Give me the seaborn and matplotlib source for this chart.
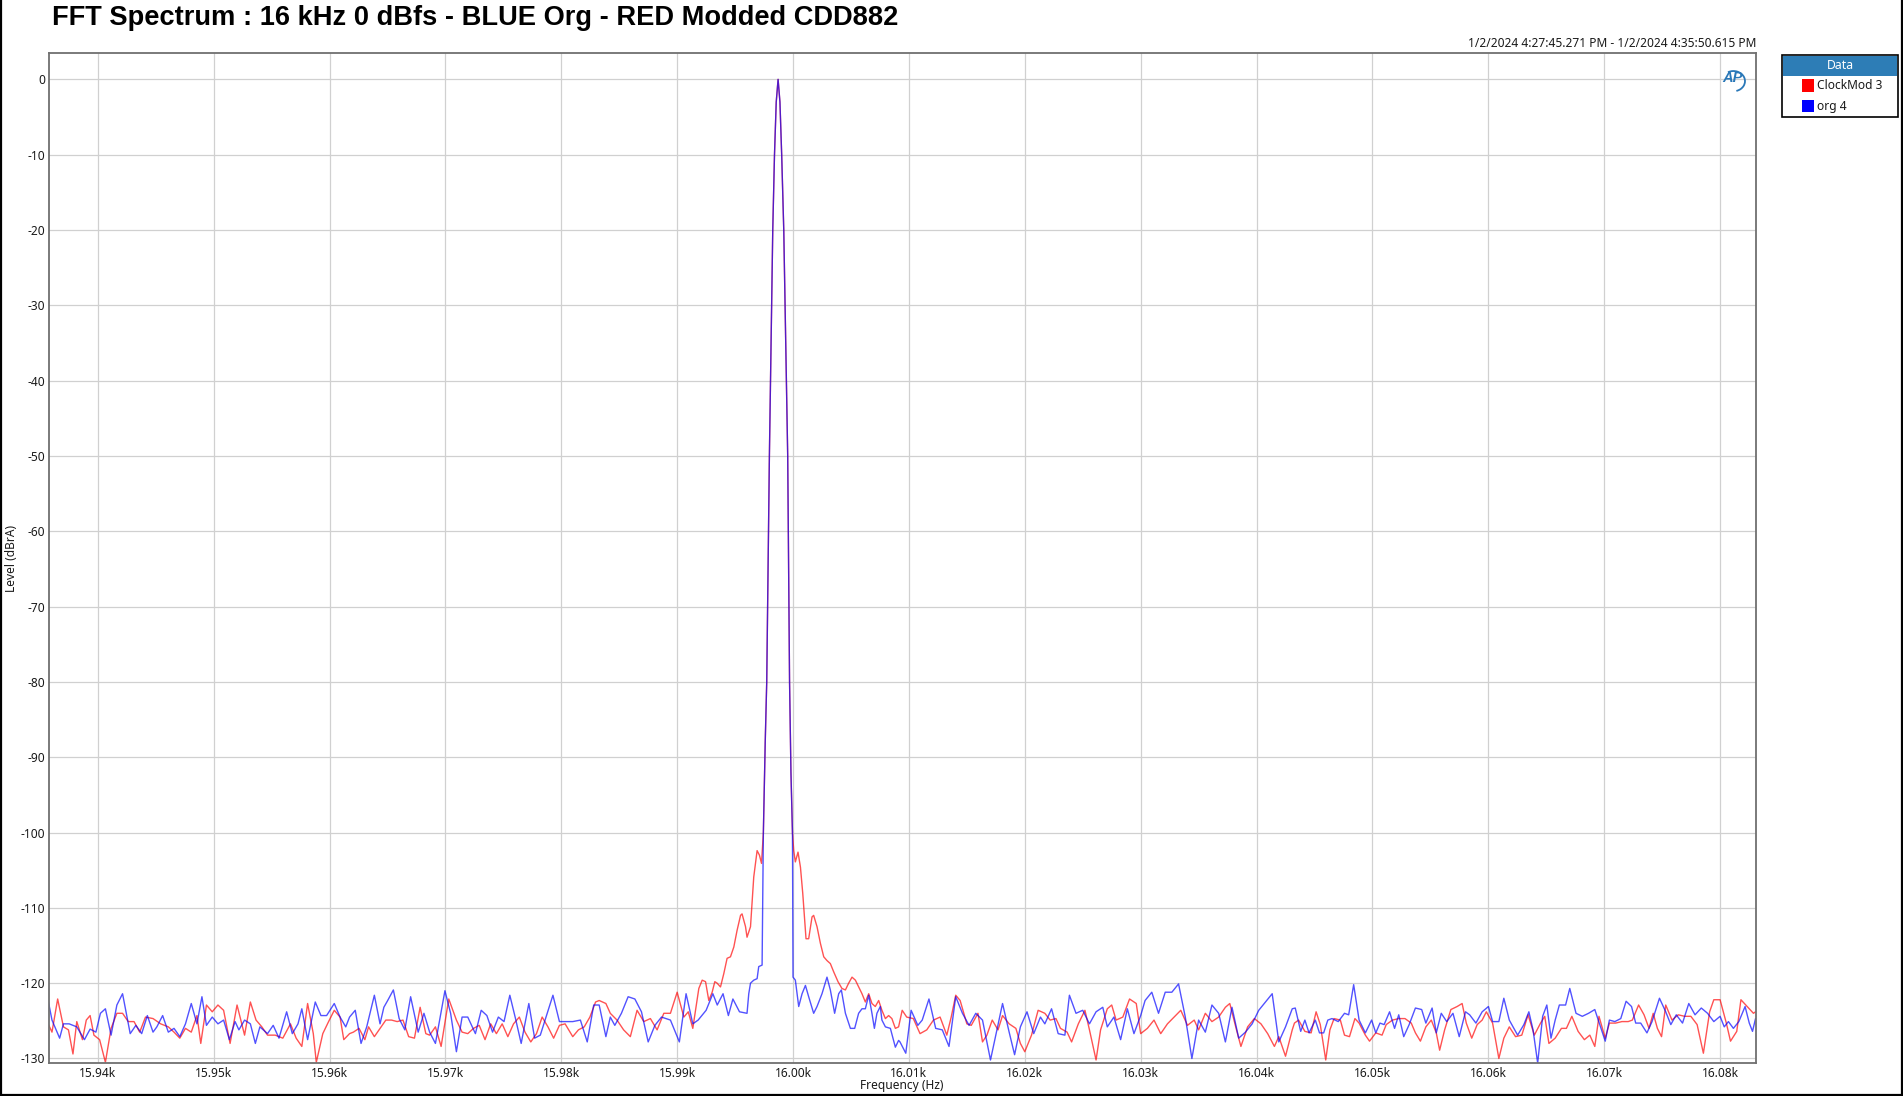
import numpy as np
import pandas as pd
import matplotlib
matplotlib.use('Agg')
import matplotlib.pyplot as plt
from matplotlib.patches import Rectangle, Arc
from matplotlib.lines import Line2D
import seaborn as sns

# ---- data (Hz, dBrA) ----
peak_freq = [15997.44, 15997.60, 15997.73, 15997.96, 15998.25, 15998.40, 15998.55,
             15998.71, 15998.87, 15999.02, 15999.20, 15999.54, 15999.70, 15999.82,
             15999.95]
peak_db = [-100, -88, -80, -50, -20, -10, -3, 0, -3, -10, -20, -50, -80, -92, -100]

blue_freq = [
    15935.72, 15936.05, 15936.71, 15937.04, 15937.53, 15938.19, 15938.85, 15939.34,
    15939.84, 15940.23, 15940.66, 15941.15, 15941.65, 15942.14, 15942.80, 15943.29,
    15943.79, 15944.28, 15944.77, 15945.10, 15945.60, 15946.09, 15946.58, 15947.08,
    15947.57, 15948.07, 15948.56, 15948.99, 15949.38, 15949.88, 15950.37, 15950.86,
    15951.36, 15951.85, 15952.18, 15952.67, 15953.17, 15953.60, 15953.99, 15954.65,
    15955.14, 15955.64, 15956.30, 15956.79, 15957.28, 15957.61, 15958.11, 15958.77,
    15959.26, 15959.75, 15960.41, 15960.91, 15961.40, 15961.73, 15962.22, 15962.72,
    15963.21, 15963.87, 15964.36, 15964.69, 15965.02, 15965.51, 15966.01, 15966.50,
    15967.00, 15967.65, 15968.15, 15968.64, 15969.14, 15969.96, 15970.45, 15970.95,
    15971.44, 15971.93, 15972.59, 15973.09, 15973.58, 15974.07, 15974.57, 15975.06,
    15975.56, 15976.05, 15976.54, 15977.20, 15977.70, 15978.19, 15978.68, 15979.28,
    15979.84, 15980.33, 15980.99, 15981.65, 15982.24, 15982.80,
    15983.27, 15983.85, 15984.23, 15984.62, 15985.19, 15985.77, 15986.35, 15986.92,
    15987.50, 15988.08, 15988.65, 15989.42, 15990.19, 15990.77, 15991.35, 15991.81,
    15992.50, 15993.08, 15993.46, 15993.96, 15994.42, 15994.81, 15995.38,
    15996.03, 15996.18, 15996.33, 15996.61, 15996.90, 15997.04, 15997.33,
    16000.00, 16000.20, 16000.49, 16000.78, 16001.07, 16001.35, 16001.78, 16002.07,
    16002.50, 16002.93, 16003.22, 16003.59, 16003.94, 16004.17, 16004.52, 16004.95,
    16005.32, 16005.66, 16005.95, 16006.24, 16006.53, 16006.81, 16007.02, 16007.24,
    16007.53, 16007.67, 16007.97, 16008.40, 16008.83, 16009.11,
    16009.23, 16009.73, 16010.19, 16010.77, 16011.15, 16011.73, 16012.31, 16012.88,
    16013.46, 16014.04, 16014.62, 16015.19, 16015.77, 16016.35, 16017.04, 16017.50,
    16018.08, 16018.65, 16019.12, 16019.62, 16020.19, 16020.77, 16021.35, 16021.73,
    16022.31, 16022.88, 16023.46, 16023.85, 16024.42, 16025.00, 16025.58, 16026.15,
    16026.73, 16027.12, 16027.69, 16028.27, 16028.85, 16029.42, 16030.00, 16030.38,
    16030.96, 16031.54, 16032.12, 16032.69, 16033.27, 16033.85, 16034.42, 16035.00,
    16035.58, 16036.15, 16036.73, 16037.31, 16037.88, 16038.46, 16039.04, 16039.62,
    16040.19, 16040.77, 16041.35, 16041.92, 16042.50, 16043.08,
    16043.34, 16043.81, 16044.17, 16044.53, 16045.07, 16045.43, 16045.79, 16046.15,
    16046.51, 16047.05, 16047.59, 16047.95, 16048.38, 16048.85, 16049.39, 16049.93,
    16050.29, 16050.65, 16051.01, 16051.48, 16051.91, 16052.27, 16052.70, 16053.17,
    16053.71, 16054.25, 16054.61, 16055.15, 16055.51, 16055.94, 16056.41, 16056.95,
    16057.49, 16058.03, 16058.39, 16058.93, 16059.47, 16060.01, 16060.37, 16060.91,
    16061.34, 16061.81, 16062.53, 16063.07, 16063.50, 16063.86, 16064.26, 16064.69,
    16065.05, 16065.41, 16065.77, 16066.13, 16066.67, 16067.03, 16067.57, 16068.11,
    16068.65, 16069.19, 16069.73, 16070.09, 16070.45, 16070.92, 16071.43, 16071.89,
    16072.36, 16072.72, 16073.15, 16073.69, 16074.13, 16074.77, 16075.31, 16075.75,
    16076.22, 16076.76, 16077.30, 16077.84, 16078.38, 16078.92, 16079.46, 16080.00,
    16080.36, 16080.72, 16081.15, 16081.62, 16082.16, 16082.52, 16082.80, 16083.06]
blue_db = [
    -122.3, -124.9, -127.3, -125.4, -125.4, -125.8, -127.5, -126.1,
    -126.5, -124.0, -123.4, -126.9, -122.9, -121.4, -126.7, -125.6,
    -126.7, -124.3, -126.5, -125.8, -124.3, -126.5, -126.0, -127.1,
    -125.4, -122.7, -125.4, -121.8, -125.6, -124.5, -125.4, -124.9,
    -127.5, -125.1, -126.2, -124.9, -125.4, -128.0, -125.8, -126.7,
    -125.6, -127.3, -123.8, -126.7, -125.4, -123.4, -127.5, -122.5,
    -124.3, -124.3, -122.7, -124.5, -125.8, -124.5, -123.6, -128.0,
    -125.8, -121.6, -125.4, -123.2, -122.3, -120.9, -124.7, -126.2,
    -121.8, -126.5, -124.0, -126.5, -128.0, -121.0, -124.0, -129.1,
    -124.5, -124.5, -126.7, -123.6, -124.3, -126.5, -124.5, -125.1,
    -121.6, -124.7, -128.0, -122.7, -127.3, -126.9, -124.5, -121.6,
    -125.1, -125.1, -125.1, -124.9, -127.8, -122.9,
    -122.9, -127.1, -124.5, -125.6, -124.0, -121.8, -122.1, -123.8,
    -127.8, -125.6, -124.5, -124.9, -127.8, -121.4, -125.4, -124.9,
    -123.6, -121.4, -122.9, -121.4, -124.3, -122.1, -123.8,
    -124.0, -121.4, -120.0, -119.6, -119.4, -117.8, -117.6,
    -119.2, -119.6, -123.1, -121.4, -120.3, -121.8, -124.0, -123.1,
    -121.4, -119.2, -120.9, -124.0, -121.4, -120.9, -124.0, -126.0,
    -126.0, -124.0, -123.4, -123.4, -121.6, -124.0, -126.0, -124.0,
    -123.1, -124.9, -125.8, -126.0, -128.5, -127.6,
    -127.8, -129.3, -123.6, -125.6, -124.9, -122.1, -126.0, -126.2,
    -128.4, -121.8, -124.0, -125.6, -124.0, -124.9, -130.2, -126.9,
    -122.7, -126.5, -129.5, -125.8, -123.8, -126.7, -124.5, -125.4,
    -123.4, -126.7, -126.9, -121.6, -124.0, -123.6, -125.4, -123.8,
    -123.2, -125.8, -124.5, -127.5, -123.4, -126.7, -124.3, -122.3,
    -121.2, -124.0, -121.2, -121.2, -120.1, -124.5, -130.0, -124.9,
    -126.5, -122.9, -124.0, -127.8, -123.2, -127.3, -126.5, -125.4,
    -123.6, -122.5, -121.4, -127.8, -125.8, -123.4,
    -123.3, -126.4, -124.9, -126.6, -124.9, -126.6, -126.6, -124.9,
    -124.7, -125.1, -124.0, -124.2, -120.2, -124.9, -126.6, -124.9,
    -126.6, -125.3, -125.5, -123.8, -126.0, -124.2, -127.1, -125.5,
    -123.3, -123.5, -125.3, -123.3, -126.6, -124.0, -125.1, -124.0,
    -127.1, -123.8, -124.2, -125.3, -123.8, -123.1, -125.1, -125.1,
    -122.0, -124.9, -126.9, -125.5, -123.8, -126.2, -130.6, -124.4,
    -122.9, -127.3, -124.9, -122.9, -122.9, -120.7, -124.0, -124.4,
    -124.0, -123.5, -126.0, -127.7, -124.9, -125.1, -124.7, -122.4,
    -123.1, -125.3, -125.3, -126.6, -125.1, -122.0, -123.8, -125.5,
    -124.2, -125.3, -122.7, -124.2, -123.3, -124.0, -125.1, -124.4,
    -125.8, -125.1, -126.0, -125.1, -123.1, -125.3, -126.4, -124.7]

red_freq = [
    15935.72, 15936.05, 15936.54, 15937.04, 15937.47, 15937.86, 15938.19, 15938.68,
    15939.01, 15939.34, 15939.67, 15940.16, 15940.66, 15941.15, 15941.65, 15942.14,
    15942.63, 15943.13, 15943.62, 15944.12, 15944.77, 15945.43, 15946.09, 15946.58,
    15947.08, 15947.57, 15948.07, 15948.56, 15948.89, 15949.38, 15949.88, 15950.37,
    15950.86, 15951.42, 15952.02, 15952.67, 15953.17, 15953.66, 15954.16, 15954.65,
    15955.31, 15955.97, 15956.63, 15957.12, 15957.61, 15958.11, 15958.60, 15958.86,
    15959.42, 15959.92, 15960.41, 15960.91, 15961.23, 15961.73, 15962.06, 15962.55,
    15963.05, 15963.37, 15963.87, 15964.36, 15964.86, 15965.35, 15965.84, 15966.34,
    15966.83, 15967.33, 15967.82, 15968.31, 15968.64, 15969.14, 15969.63, 15970.29,
    15970.95, 15971.44, 15971.93, 15972.43, 15972.92, 15973.42, 15973.91, 15974.40,
    15974.90, 15975.39, 15975.88, 15976.38, 15976.87, 15977.37, 15977.86, 15978.35,
    15978.85, 15979.34, 15979.84, 15980.33, 15980.99, 15981.48, 15981.98, 15982.47,
    15982.96,
    15983.27, 15983.85, 15984.23, 15984.81, 15985.38, 15985.96, 15986.54, 15987.12,
    15987.69, 15988.27, 15988.85, 15989.42, 15990.00, 15990.58, 15990.96, 15991.35,
    15991.87, 15992.16, 15992.45, 15992.73, 15993.02, 15993.25, 15993.45, 15993.74,
    15994.03, 15994.31, 15994.60, 15994.89, 15995.17, 15995.47, 15995.60, 15995.90,
    15996.03, 15996.33, 15996.61, 15996.90, 15997.10, 15997.28,
    16000.06, 16000.20, 16000.43, 16000.64, 16000.84, 16001.12, 16001.35, 16001.64,
    16001.78, 16002.07, 16002.36, 16002.65, 16002.93, 16003.22, 16003.51, 16003.88,
    16004.22, 16004.52, 16004.80, 16005.09, 16005.38, 16005.66, 16005.95, 16006.24,
    16006.53, 16006.81, 16007.10, 16007.39, 16007.67, 16007.97, 16008.25, 16008.53,
    16008.83, 16009.11,
    16009.42, 16009.81, 16010.38, 16010.96, 16011.54, 16012.12, 16012.69, 16013.27,
    16013.65, 16014.04, 16014.42, 16015.00, 16015.38, 16015.96, 16016.35, 16016.73,
    16017.19, 16017.69, 16018.08, 16018.65, 16019.23, 16019.62, 16020.00, 16020.58,
    16021.15, 16021.73, 16022.19, 16022.69, 16023.08, 16023.65, 16024.04, 16024.62,
    16025.19, 16025.58, 16026.15, 16026.54, 16027.12, 16027.50, 16027.88, 16028.46,
    16029.04, 16029.62, 16030.00, 16030.58, 16031.15, 16031.73, 16032.31, 16032.88,
    16033.46, 16034.04, 16034.62, 16035.00, 16035.58, 16036.15, 16036.73, 16037.31,
    16037.69, 16038.27, 16038.65, 16039.23, 16039.81, 16040.38, 16040.96, 16041.54,
    16041.92, 16042.50, 16043.08,
    16043.27, 16043.63, 16044.17, 16044.71, 16045.14, 16045.50, 16045.97, 16046.33,
    16046.69, 16047.23, 16047.59, 16048.02, 16048.49, 16048.85, 16049.39, 16049.75,
    16050.29, 16050.83, 16051.19, 16051.73, 16052.27, 16052.81, 16053.35, 16053.71,
    16054.14, 16054.61, 16055.08, 16055.51, 16055.80, 16056.23, 16056.77, 16057.31,
    16057.74, 16058.10, 16058.57, 16059.04, 16059.47, 16059.83, 16060.37, 16060.91,
    16061.34, 16061.81, 16062.35, 16062.89, 16063.43, 16063.97, 16064.51, 16064.87,
    16065.23, 16065.77, 16066.31, 16066.74, 16067.21, 16067.75, 16068.29, 16068.76,
    16069.19, 16069.55, 16070.09, 16070.45, 16070.99, 16071.53, 16072.07, 16072.43,
    16072.97, 16073.44, 16073.87, 16074.23, 16074.59, 16074.95, 16075.31, 16075.85,
    16076.39, 16076.94, 16077.48, 16078.02, 16078.56, 16079.10, 16079.46, 16080.00,
    16080.54, 16080.90, 16081.44, 16081.80, 16082.34, 16082.88, 16083.06]
red_db = [
    -125.4, -126.5, -122.1, -125.8, -126.2, -129.4, -125.1, -127.5,
    -124.9, -124.3, -126.9, -127.5, -130.5, -126.0, -124.0, -124.0,
    -125.1, -125.1, -126.5, -124.5, -124.7, -125.4, -125.8, -126.5,
    -127.3, -126.0, -126.5, -124.3, -128.0, -122.9, -123.8, -122.9,
    -123.6, -128.0, -122.9, -126.9, -122.5, -124.9, -125.8, -126.9,
    -126.9, -127.3, -125.4, -127.3, -128.4, -122.7, -126.7, -130.5,
    -126.7, -125.1, -123.6, -124.5, -127.5, -126.7, -126.5, -126.0,
    -127.5, -125.8, -127.1, -126.0, -124.9, -124.9, -125.1, -124.9,
    -127.1, -127.3, -123.2, -126.7, -126.9, -125.8, -128.4, -122.1,
    -124.9, -126.5, -126.7, -126.0, -125.6, -127.5, -125.4, -126.7,
    -125.4, -127.1, -125.4, -124.5, -126.5, -127.8, -126.7, -124.5,
    -125.8, -127.3, -125.6, -125.4, -127.1, -126.2, -125.8, -124.5,
    -122.5,
    -122.3, -122.7, -124.0, -124.9, -126.2, -127.1, -123.6, -125.1,
    -124.7, -126.2, -124.0, -124.0, -121.2, -124.5, -123.8, -126.0,
    -120.7, -119.6, -119.8, -122.3, -121.2, -119.8, -120.0, -120.5,
    -118.7, -116.7, -116.5, -115.2, -113.0, -111.0, -110.8, -112.5,
    -113.9, -112.5, -105.9, -102.4, -103.0, -104.1,
    -102.4, -103.9, -102.6, -104.6, -108.1, -114.1, -114.1, -111.2,
    -111.0, -112.5, -114.7, -116.5, -117.0, -117.4, -118.5, -119.8,
    -120.7, -120.9, -120.0, -119.2, -119.6, -120.5, -121.4, -122.5,
    -121.4, -122.7, -123.1, -122.3, -123.6, -124.7, -124.3, -124.7,
    -126.0, -125.8,
    -123.6, -124.5, -124.7, -126.7, -126.2, -124.9, -124.5, -126.9,
    -124.5, -121.6, -122.3, -125.4, -125.6, -124.0, -127.8, -126.9,
    -124.9, -126.2, -124.3, -125.4, -126.0, -128.0, -129.1, -126.9,
    -123.6, -124.0, -124.9, -124.7, -126.0, -126.5, -127.8, -125.4,
    -123.6, -126.2, -130.2, -126.2, -123.4, -122.9, -124.9, -124.5,
    -122.1, -122.7, -126.7, -126.0, -124.9, -126.7, -125.4, -124.5,
    -123.6, -125.6, -124.9, -126.2, -124.0, -125.1, -124.5, -123.2,
    -122.7, -126.2, -128.4, -125.8, -124.7, -125.4, -126.7, -128.4,
    -127.1, -129.7, -126.2,
    -125.3, -124.9, -126.4, -126.6, -123.8, -125.5, -130.2, -126.2,
    -124.7, -124.9, -126.9, -127.1, -124.7, -125.3, -126.9, -127.7,
    -126.6, -126.9, -125.5, -124.9, -124.7, -124.7, -125.3, -126.6,
    -127.7, -125.8, -124.9, -126.6, -128.9, -126.2, -123.5, -123.1,
    -122.7, -125.3, -127.3, -125.5, -124.9, -123.8, -125.3, -130.0,
    -127.3, -125.8, -127.1, -126.9, -124.2, -126.9, -125.3, -124.4,
    -128.0, -127.3, -126.0, -126.0, -124.4, -126.4, -127.5, -126.9,
    -128.4, -124.4, -127.3, -125.3, -125.3, -125.1, -125.1, -124.9,
    -122.9, -124.2, -126.0, -124.0, -126.0, -127.1, -122.9, -124.9,
    -124.2, -124.4, -124.4, -125.5, -129.3, -123.8, -122.2, -122.2,
    -125.3, -127.7, -126.4, -122.2, -123.1, -124.0, -123.8]

series_names = ['ClockMod 3', 'org 4']
series_colors = ['#ff0000', '#0000ff']
x_ticks = [15940, 15950, 15960, 15970, 15980, 15990, 16000,
           16010, 16020, 16030, 16040, 16050, 16060, 16070, 16080]
y_ticks = list(range(-130, 1, 10))

title = 'FFT Spectrum : 16 kHz 0 dBfs - BLUE Org - RED Modded CDD882'
time_span = '1/2/2024 4:27:45.271 PM - 1/2/2024 4:35:50.615 PM'

# ---- build table ----
red_df = pd.DataFrame({'freq': red_freq + peak_freq, 'level': red_db + peak_db,
                       'series': series_names[0]})
blue_df = pd.DataFrame({'freq': blue_freq + peak_freq, 'level': blue_db + peak_db,
                        'series': series_names[1]})
df = pd.concat([red_df, blue_df], ignore_index=True)

sns.set_style('white')
plt.rcParams['font.family'] = ['Noto Sans', 'DejaVu Sans']
plt.rcParams['axes.unicode_minus'] = False

fig = plt.figure(figsize=(19.03, 10.96), dpi=100)
ax = fig.add_axes([0.02549, 0.0301, 0.89726, 0.9212])

sns.lineplot(data=df, x='freq', y='level', hue='series', hue_order=series_names,
             palette=dict(zip(series_names, series_colors)), estimator=None,
             sort=True, linewidth=1.0, alpha=0.68, legend=False, ax=ax)

ax.set_xlim(15935.75, 16083.1)
ax.set_ylim(-130.6, 3.45)
ax.set_xticks(x_ticks)
ax.set_xticklabels([f'{t / 1000:.2f}k' for t in x_ticks])
ax.set_yticks(y_ticks)
ax.set_yticklabels([str(t) for t in y_ticks])
ax.tick_params(length=0, labelsize=8.6, labelcolor='#1a1a1a')
ax.tick_params(axis='x', pad=3)
ax.tick_params(axis='y', pad=2.5)
ax.grid(True, color='#d0d0d0', linewidth=0.9)
ax.set_axisbelow(True)
for sp in ax.spines.values():
    sp.set_color('#707070')
    sp.set_linewidth(1.3)
ax.set_xlabel('')
ax.set_ylabel('')

fig.text(0.474, 0.0093, 'Frequency (Hz)', ha='center', va='center', fontsize=8.6,
         color='#1a1a1a')
fig.text(0.0058, 0.4909, 'Level (dBrA)', ha='center', va='center', fontsize=8.6,
         rotation=90, color='#1a1a1a')
fig.text(0.0273, 0.9835, title, ha='left', va='center', fontsize=19.6,
         fontweight='bold', family='Liberation Sans', color='black')
fig.text(0.92275, 0.9605, time_span, ha='right', va='center', fontsize=8.6,
         color='#1a1a1a')

# AP logo in the plot corner
ax.text(0.9865, 0.983, 'AP', transform=ax.transAxes, ha='center', va='top',
        fontsize=10.5, fontweight='bold', style='italic', color='#2a78b8',
        family='Liberation Sans')
ax.add_patch(Arc((0.9868, 0.9725), 0.0135, 0.02, transform=ax.transAxes,
                 theta1=-80, theta2=110, color='#2a78b8', lw=1.3))

# legend panel
W, H = 1903, 1096
def fx(px):
    return px / W
def fy(py):
    return 1 - py / H

fig.add_artist(Rectangle((fx(1782), fy(117)), fx(1898) - fx(1782), fy(55) - fy(117),
                         facecolor='white', edgecolor='black', lw=1.2,
                         transform=fig.transFigure))
fig.add_artist(Rectangle((fx(1782.6), fy(75.5)), fx(1897.4) - fx(1782.6),
                         fy(55.6) - fy(75.5), facecolor='#2d7db6', edgecolor='none',
                         transform=fig.transFigure))
fig.text(fx(1840), fy(65.5), 'Data', ha='center', va='center', fontsize=8.8,
         fontweight='bold', color='white')
for i, (name, col) in enumerate(zip(series_names, series_colors)):
    yc = 85.5 + 20.8 * i
    fig.add_artist(Rectangle((fx(1802), fy(yc + 6)), fx(12), 12 / H,
                             facecolor=col, edgecolor='none',
                             transform=fig.transFigure))
    fig.text(fx(1817), fy(yc), name, ha='left', va='center', fontsize=8.6,
             color='#1a1a1a')

# outer frame
for xs, ys in [([0.0005, 0.0005], [0, 1]), ([0.9995, 0.9995], [0, 1]),
               ([0, 1], [0.001, 0.001])]:
    fig.add_artist(Line2D(xs, ys, color='black', lw=1.6, transform=fig.transFigure))

fig.savefig('out.png', dpi=100, facecolor='white')
